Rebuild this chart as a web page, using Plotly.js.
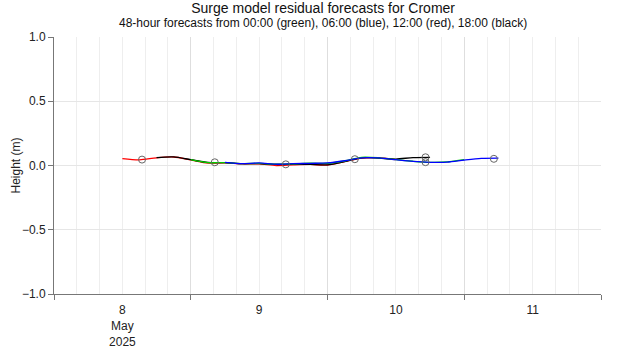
<!DOCTYPE html>
<html>
<head>
<meta charset="utf-8">
<script src="https://cdn.plot.ly/plotly-3.0.1.min.js"></script>
<style>html,body{margin:0;padding:0;background:#fff;}#chart{width:620px;height:350px;}</style>
</head>
<body>
<div id="chart"></div>
<script>
// Forecast start times (each forecast runs 48 h, values every 3 h)
const stepHours = 3;
const redStart = '2025-05-08T12:00:00';
const blackStart = '2025-05-08T18:00:00';
const greenStart = '2025-05-09T00:00:00';
const blueStart = '2025-05-09T06:00:00';

// Residual values (m)
const redValues = [0.054, 0.044, 0.060, 0.066, 0.044, 0.019, 0.020, 0.012, 0.012, 0.000, 0.005, 0.008, 0.004, 0.030, 0.058, 0.060, 0.045];
const blackValues = [0.062, 0.067, 0.045, 0.024, 0.022, 0.014, 0.015, 0.008, 0.010, 0.008, 0.005, 0.030, 0.060, 0.058, 0.050, 0.062, 0.064];
const greenValues = [0.045, 0.022, 0.023, 0.015, 0.016, 0.010, 0.013, 0.018, 0.017, 0.035, 0.064, 0.060, 0.045, 0.033, 0.025, 0.028, 0.045];
const blueValues = [0.024, 0.014, 0.020, 0.010, 0.014, 0.017, 0.020, 0.037, 0.060, 0.059, 0.045, 0.032, 0.025, 0.026, 0.042, 0.055, 0.057];

// High-water markers
const hwTimes = ['2025-05-08T15:27:00', '2025-05-09T04:13:00', '2025-05-09T16:41:00', '2025-05-10T04:48:00', '2025-05-10T17:12:00', '2025-05-10T17:12:00', '2025-05-11T05:12:00'];
const hwValues = [0.046, 0.025, 0.009, 0.049, 0.064, 0.026, 0.052];

const xRange = ['2025-05-08T00:00:00', '2025-05-12T00:00:00'];

const titleText = 'Surge model residual forecasts for Cromer';
const subtitleText = '48-hour forecasts from 00:00 (green), 06:00 (blue), 12:00 (red), 18:00 (black)';

function timesFrom(start, n) {
  const t0 = new Date(start + 'Z').getTime();
  const out = [];
  for (let i = 0; i < n; i++) {
    out.push(new Date(t0 + i * stepHours * 3600000).toISOString().slice(0, 19));
  }
  return out;
}

function lineTrace(start, values, color) {
  return {
    type: 'scatter', mode: 'lines',
    x: timesFrom(start, values.length), y: values,
    line: {color: color, width: 1.3, shape: 'spline', smoothing: 0.8},
    hoverinfo: 'skip', showlegend: false
  };
}

const data = [
  lineTrace(redStart, redValues, '#ff0000'),
  lineTrace(blackStart, blackValues, '#000000'),
  lineTrace(greenStart, greenValues, '#00cc00'),
  lineTrace(blueStart, blueValues, '#0000ff'),
  {
    type: 'scatter', mode: 'markers', x: hwTimes, y: hwValues,
    marker: {symbol: 'circle-open', size: 7, color: '#666666', line: {width: 1}},
    hoverinfo: 'skip', showlegend: false
  }
];

const layout = {
  width: 620, height: 350,
  margin: {l: 54, r: 19, t: 37, b: 56},
  paper_bgcolor: '#ffffff', plot_bgcolor: '#ffffff',
  font: {family: 'Liberation Sans, Arial, sans-serif', size: 12, color: '#222'},
  title: {
    text: titleText,
    font: {size: 14, color: '#111'},
    x: 0.492, xref: 'paper', xanchor: 'center',
    y: 1 - 8 / 350, yref: 'container', yanchor: 'middle'
  },
  annotations: [{
    text: subtitleText, showarrow: false,
    xref: 'paper', x: 0.492, xanchor: 'center',
    yref: 'paper', y: 1 + 14 / 257, yanchor: 'middle',
    font: {size: 12, color: '#111'}
  }],
  xaxis: {
    type: 'date', range: xRange,
    tickmode: 'linear', tick0: '2025-05-08', dtick: 86400000,
    ticklabelmode: 'period', tickformat: '%-d\n%b<br>%Y',
    ticks: 'outside', ticklen: 5, tickcolor: '#777',
    showline: true, linecolor: '#777', linewidth: 1,
    showgrid: true, gridcolor: '#dedede',
    minor: {tick0: '2025-05-08', dtick: 4 * 3600000, showgrid: true, gridcolor: '#eeeeee', ticks: ''},
    zeroline: false, fixedrange: true
  },
  yaxis: {
    range: [-1, 1], dtick: 0.5, tickformat: '.1f',
    ticks: 'outside', ticklen: 5, tickcolor: '#777',
    showline: true, linecolor: '#777', linewidth: 1,
    showgrid: true, gridcolor: '#e6e6e6', zeroline: false,
    title: {text: 'Height (m)', font: {size: 12}},
    fixedrange: true
  },
  showlegend: false
};

Plotly.newPlot('chart', data, layout, {staticPlot: true, displayModeBar: false});
</script>
</body>
</html>
